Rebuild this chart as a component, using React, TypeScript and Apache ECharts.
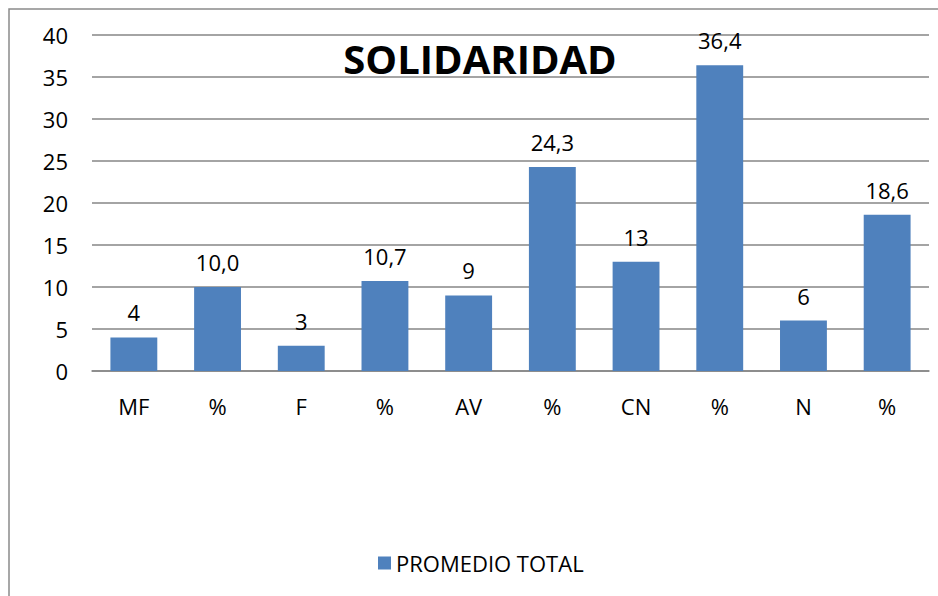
import React, { useEffect, useRef } from "react";
import * as echarts from "echarts";

const categories = ["MF", "%", "F", "%", "AV", "%", "CN", "%", "N", "%"];
const values = [4, 10.0, 3, 10.7, 9, 24.3, 13, 36.4, 6, 18.6];
const seriesName = "PROMEDIO TOTAL";
const titleText = "SOLIDARIDAD";
const yTicks = { min: 0, max: 40, interval: 5 };

const FONT = "'Open Sans', 'Noto Sans', sans-serif";

export default function App() {
  const ref = useRef<HTMLDivElement>(null);
  useEffect(() => {
    document.body.style.margin = "0";
    const chart = echarts.init(ref.current!, null, { renderer: "svg" });
    chart.setOption({
      animation: false,
      backgroundColor: "#ffffff",
      textStyle: { fontFamily: FONT },
      title: {
        text: titleText,
        left: 475,
        textAlign: "center",
        top: 33,
        textStyle: { fontFamily: FONT, fontWeight: "bold", fontSize: 40, color: "#000" },
      },
      graphic: [
        {
          type: "rect",
          shape: { x: 9, y: 9, width: 1000, height: 1000 },
          style: { fill: "none", stroke: "#8a8a8a", lineWidth: 1.5 },
          silent: true,
        },
      ],
      legend: {
        left: 373,
        top: 547,
        icon: "rect",
        itemWidth: 13,
        itemHeight: 13,
        itemGap: 10,
        textStyle: { fontFamily: FONT, fontSize: 22, color: "#000" },
        data: [seriesName],
      },
      grid: { left: 92, right: 9, top: 35, bottom: 225, containLabel: false },
      xAxis: {
        type: "category",
        data: categories,
        axisLine: { show: true, lineStyle: { color: "#868686", width: 1.5 } },
        axisTick: { show: false },
        axisLabel: { color: "#000", fontFamily: FONT, fontSize: 22, margin: 24 },
      },
      yAxis: {
        type: "value",
        min: yTicks.min,
        max: yTicks.max,
        interval: yTicks.interval,
        axisLine: { show: false },
        axisTick: { show: false },
        splitLine: { lineStyle: { color: "#868686", width: 1.5 } },
        axisLabel: { color: "#000", fontFamily: FONT, fontSize: 22, margin: 24 },
      },
      series: [
        {
          name: seriesName,
          type: "bar",
          data: values,
          barWidth: "56%",
          itemStyle: { color: "#4f81bd" },
          label: {
            show: true,
            position: "top",
            distance: 14,
            color: "#000",
            fontFamily: FONT,
            fontSize: 22,
            formatter: (p: any) =>
              categories[p.dataIndex] === "%"
                ? Number(p.value).toFixed(1).replace(".", ",")
                : String(p.value),
          },
        },
      ],
    });
    return () => chart.dispose();
  }, []);
  return <div ref={ref} style={{ width: 938, height: 596 }} />;
}
